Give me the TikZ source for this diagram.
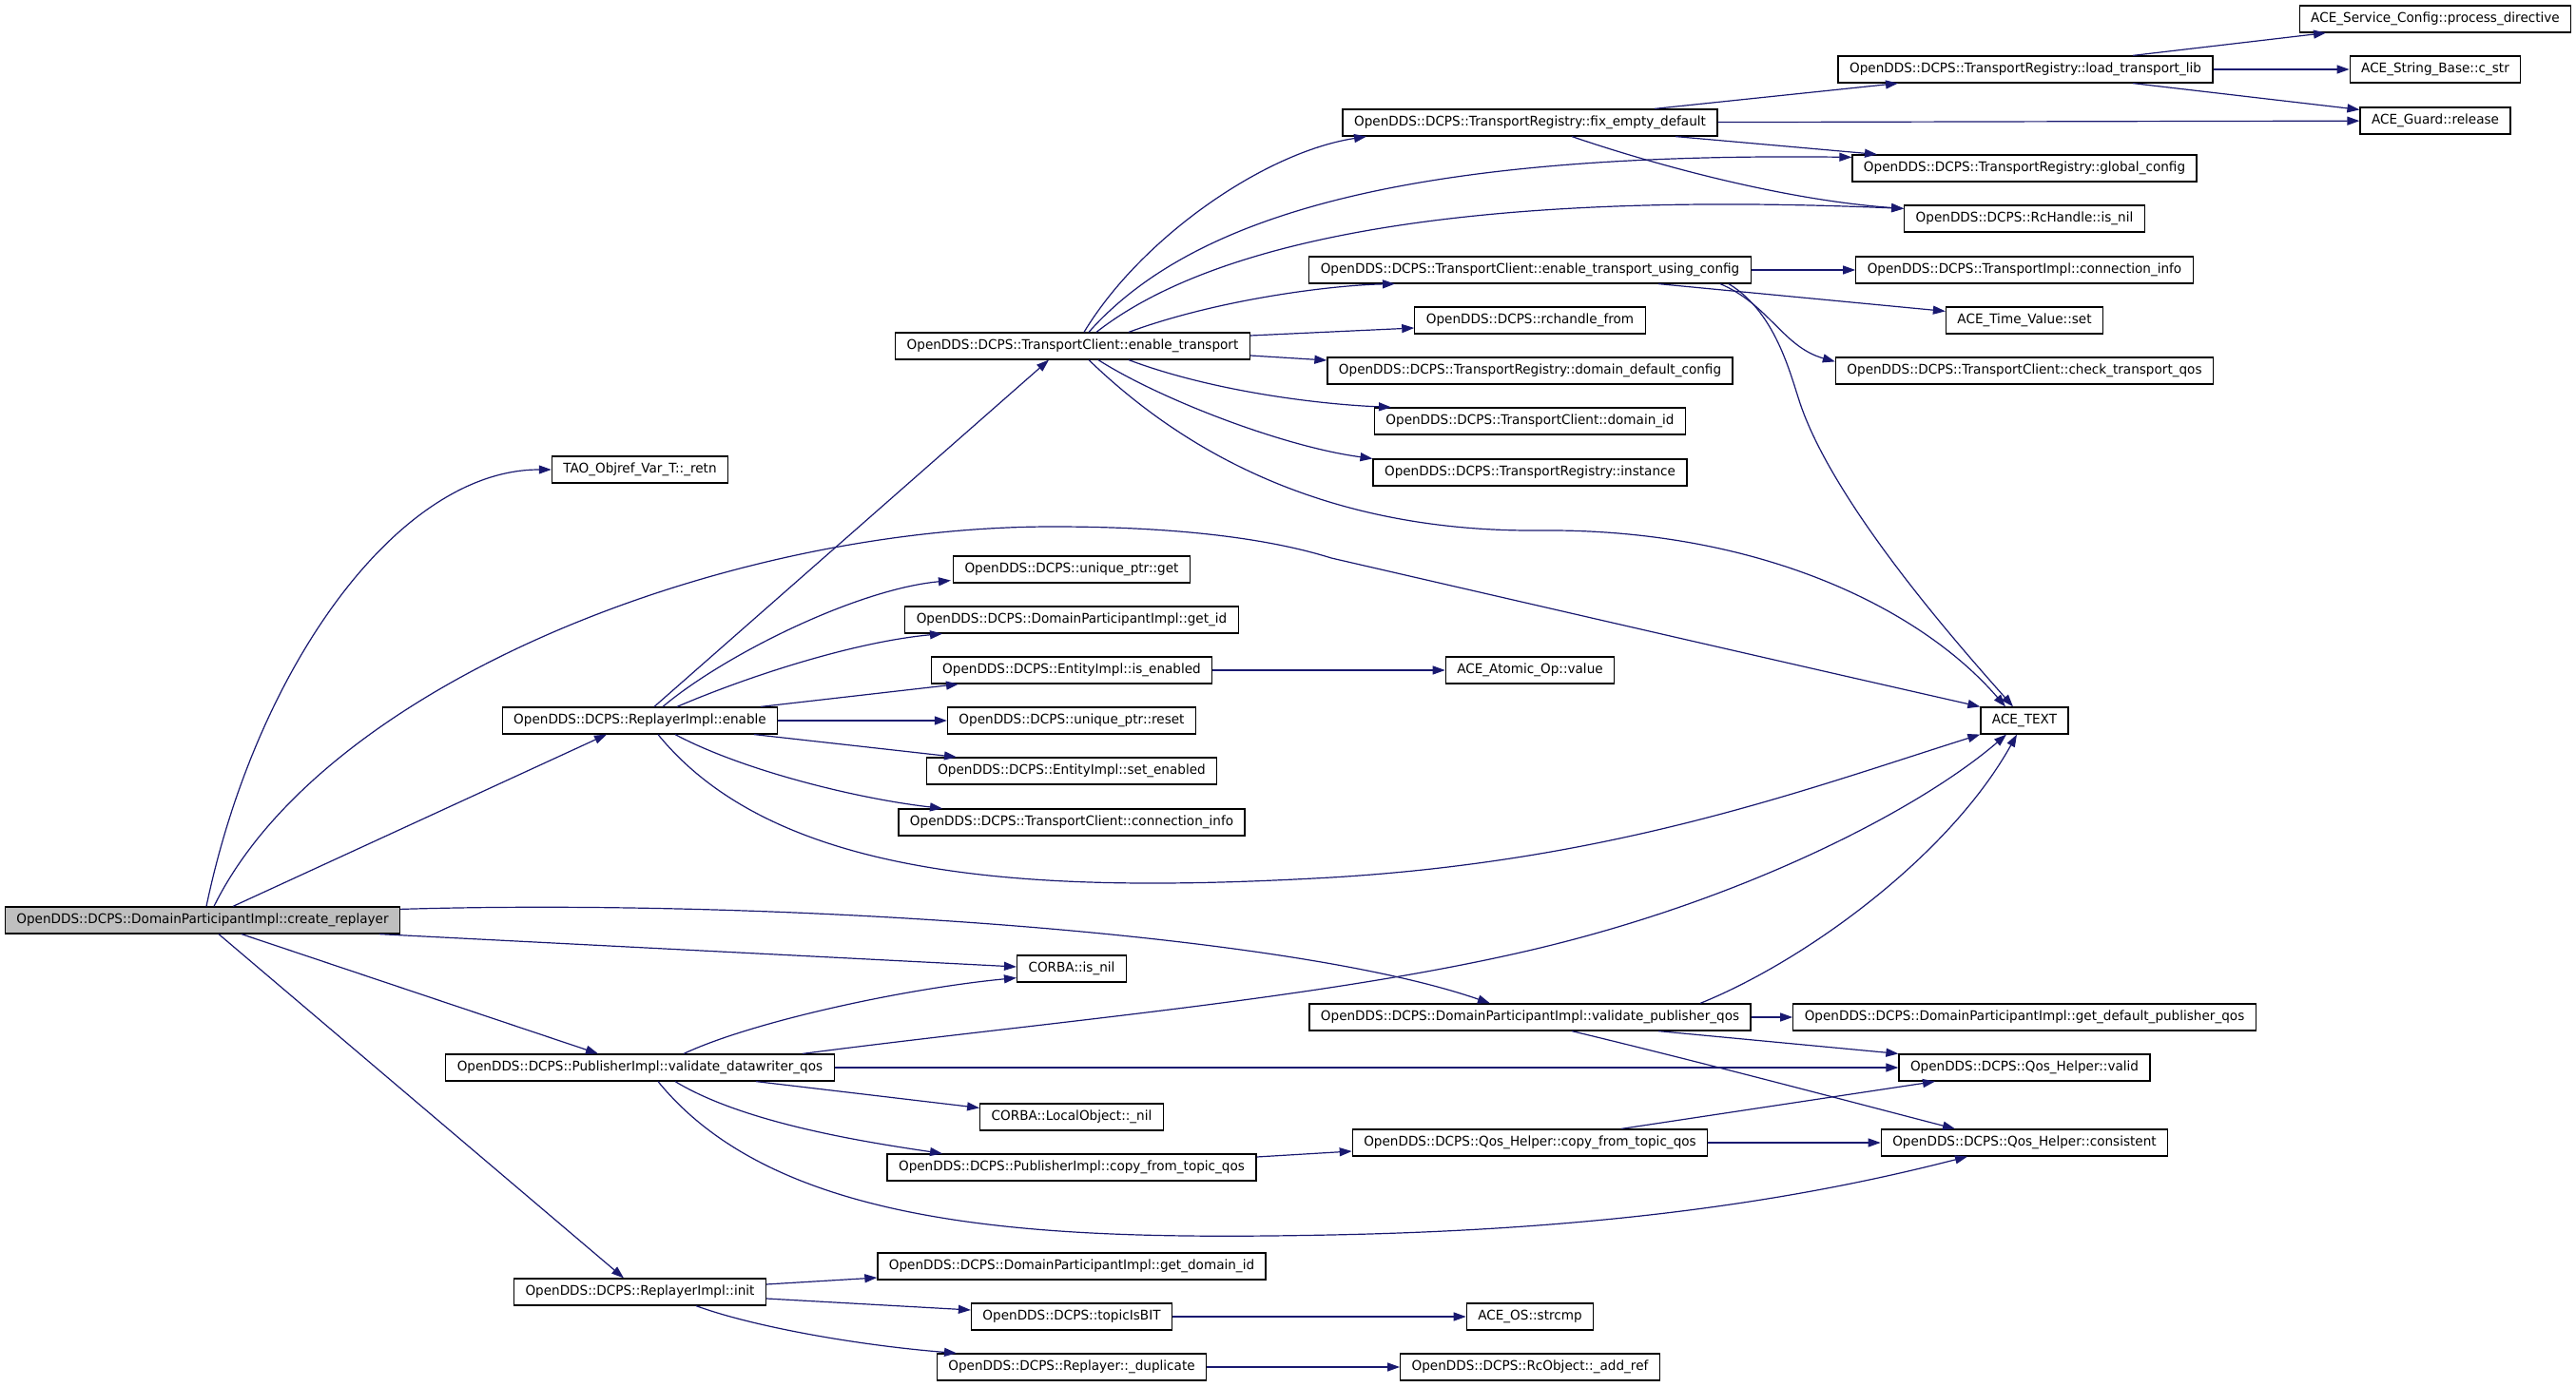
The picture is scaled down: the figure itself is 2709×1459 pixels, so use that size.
\documentclass[tikz,border=0pt]{standalone}
\usepackage{fontspec}
\newfontfamily\dfont[FakeStretch=0.97]{DejaVu Sans}
\usepackage{tikz}
\usetikzlibrary{arrows.meta, calc}
\definecolor{navy}{HTML}{191970}

\begin{document}
\begin{tikzpicture}[x=0.5pt, y=-0.5pt,
    fn/.style={draw=black, fill=white, line width=0.6pt, inner xsep=6pt, inner ysep=0pt,
      minimum height=14pt, font=\dfont\fontsize{7}{8}\selectfont},
    cur/.style={fn, fill=gray!50},
    call/.style={draw=navy, line width=0.6pt, -{Triangle[length=6.5pt, width=4.5pt]}}]
    \useasboundingbox (0, 0) rectangle (2709, 1459);

    \node[cur] (cr) at (213, 968) {OpenDDS::DCPS::DomainParticipantImpl::create\_replayer};

    \node[fn] (retn) at (673, 494) {TAO\_Objref\_Var\_T::\_retn};
    \node[fn] (re) at (673, 758) {OpenDDS::DCPS::ReplayerImpl::enable};
    \node[fn] (vdq) at (673, 1123) {OpenDDS::DCPS::PublisherImpl::validate\_datawriter\_qos};
    \node[fn] (init) at (673, 1359) {OpenDDS::DCPS::ReplayerImpl::init};

    \node[fn] (et) at (1128, 364) {OpenDDS::DCPS::TransportClient::enable\_transport};
    \node[fn] (get) at (1127, 599) {OpenDDS::DCPS::unique\_ptr::get};
    \node[fn] (gid) at (1127, 652) {OpenDDS::DCPS::DomainParticipantImpl::get\_id};
    \node[fn] (isen) at (1127, 705) {OpenDDS::DCPS::EntityImpl::is\_enabled};
    \node[fn] (reset) at (1127, 758) {OpenDDS::DCPS::unique\_ptr::reset};
    \node[fn] (seten) at (1127, 811) {OpenDDS::DCPS::EntityImpl::set\_enabled};
    \node[fn] (tcci) at (1127, 865) {OpenDDS::DCPS::TransportClient::connection\_info};
    \node[fn] (cnil) at (1127, 1019) {CORBA::is\_nil};
    \node[fn] (lnil) at (1127, 1175) {CORBA::LocalObject::\_nil};
    \node[fn] (pcft) at (1127, 1228) {OpenDDS::DCPS::PublisherImpl::copy\_from\_topic\_qos};
    \node[fn] (gdid) at (1127, 1332) {OpenDDS::DCPS::DomainParticipantImpl::get\_domain\_id};
    \node[fn] (tib) at (1127, 1385) {OpenDDS::DCPS::topicIsBIT};
    \node[fn] (dup) at (1127, 1438) {OpenDDS::DCPS::Replayer::\_duplicate};

    \node[fn] (fe) at (1609, 129) {OpenDDS::DCPS::TransportRegistry::fix\_empty\_default};
    \node[fn] (etuc) at (1609, 284) {OpenDDS::DCPS::TransportClient::enable\_transport\_using\_config};
    \node[fn] (rhf) at (1609, 337) {OpenDDS::DCPS::rchandle\_from};
    \node[fn] (ddc) at (1609, 390) {OpenDDS::DCPS::TransportRegistry::domain\_default\_config};
    \node[fn] (did) at (1609, 443) {OpenDDS::DCPS::TransportClient::domain\_id};
    \node[fn] (inst) at (1609, 497) {OpenDDS::DCPS::TransportRegistry::instance};
    \node[fn] (aval) at (1609, 705) {ACE\_Atomic\_Op::value};
    \node[fn] (vpq) at (1609, 1070) {OpenDDS::DCPS::DomainParticipantImpl::validate\_publisher\_qos};
    \node[fn] (qcft) at (1609, 1202) {OpenDDS::DCPS::Qos\_Helper::copy\_from\_topic\_qos};
    \node[fn] (strc) at (1609, 1385) {ACE\_OS::strcmp};
    \node[fn] (addref) at (1609, 1438) {OpenDDS::DCPS::RcObject::\_add\_ref};

    \node[fn] (ltl) at (2130, 73) {OpenDDS::DCPS::TransportRegistry::load\_transport\_lib};
    \node[fn] (gcfg) at (2129, 177) {OpenDDS::DCPS::TransportRegistry::global\_config};
    \node[fn] (rcnil) at (2129, 230) {OpenDDS::DCPS::RcHandle::is\_nil};
    \node[fn] (tci) at (2129, 284) {OpenDDS::DCPS::TransportImpl::connection\_info};
    \node[fn] (tvs) at (2129, 337) {ACE\_Time\_Value::set};
    \node[fn] (ctq) at (2129, 390) {OpenDDS::DCPS::TransportClient::check\_transport\_qos};
    \node[fn] (acetext) at (2129, 758) {ACE\_TEXT};
    \node[fn] (gdpq) at (2129, 1070) {OpenDDS::DCPS::DomainParticipantImpl::get\_default\_publisher\_qos};
    \node[fn] (qval) at (2129, 1123) {OpenDDS::DCPS::Qos\_Helper::valid};
    \node[fn] (qcons) at (2129, 1202) {OpenDDS::DCPS::Qos\_Helper::consistent};

    \node[fn] (pd) at (2561, 20) {ACE\_Service\_Config::process\_directive};
    \node[fn] (cstr) at (2561, 73) {ACE\_String\_Base::c\_str};
    \node[fn] (grel) at (2561, 127) {ACE\_Guard::release};

    % create_replayer
    \draw[call] ($(cr.north)+(4,0)$) .. controls (270,700) and (420,494) .. (retn.west);
    \draw[call] ($(cr.north)+(32,0)$) -- ($(re.south)+(-35,0)$);
    \draw[call] ($(cr.north)+(12,0)$) .. controls (340,720) and (760,554) .. (1107,554)
      .. controls (1230,554) and (1330,565) .. (1400,587)
      .. controls (1630,640) and (1860,693) .. (acetext.north west);
    \draw[call] ($(cr.south)+(186,0)$) -- ($(cnil.west)+(0,-2)$);
    \draw[call] ($(cr.south)+(41,0)$) -- ($(vdq.north)+(-44,0)$);
    \draw[call] ($(cr.south)+(17,0)$) -- ($(init.north)+(-17,0)$);
    \draw[call] ($(cr.north east)+(0,3)$) .. controls (800,945) and (1350,980) .. ($(vpq.north)+(-42,0)$);

    % ReplayerImpl::enable
    \draw[call] ($(re.north)+(15,0)$) -- ($(et.south)+(-25,0)$);
    \draw[call] ($(re.north)+(24,0)$) .. controls (760,690) and (900,620) .. ($(get.south west)+(-2,-3)$);
    \draw[call] ($(re.north)+(39,0)$) .. controls (790,710) and (900,675) .. ($(gid.south)+(-136,0)$);
    \draw[call] ($(re.north)+(127,0)$) -- ($(isen.south)+(-119,0)$);
    \draw[call] (re) -- (reset);
    \draw[call] ($(re.south)+(120,0)$) -- ($(seten.north)+(-121,0)$);
    \draw[call] ($(re.south)+(37,0)$) .. controls (780,810) and (900,840) .. ($(tcci.north)+(-136,0)$);
    \draw[call] ($(re.south)+(19,0)$) .. controls (820,930) and (1100,940) .. (1400,923)
      .. controls (1700,905) and (1900,830) .. (acetext.south west);

    % TransportClient::enable_transport
    \draw[call] ($(et.north)+(12,0)$) .. controls (1200,250) and (1330,160) .. ($(fe.south)+(-172,0)$);
    \draw[call] ($(et.north)+(17,0)$) .. controls (1260,220) and (1500,160) .. ($(gcfg.north west)+(0,3)$);
    \draw[call] ($(et.north)+(25,0)$) .. controls (1280,250) and (1550,200) .. ($(rcnil.north west)+(0,4)$);
    \draw[call] ($(et.north)+(59,0)$) .. controls (1280,315) and (1400,300) .. ($(etuc.south)+(-142,0)$);
    \draw[call] ($(et.east)+(0,-11)$) -- ($(rhf.west)+(0,8)$);
    \draw[call] ($(et.east)+(0,10)$) -- ($(ddc.west)+(0,-11)$);
    \draw[call] ($(et.south)+(59,0)$) .. controls (1270,410) and (1380,425) .. ($(did.north)+(-146,0)$);
    \draw[call] ($(et.south)+(27,0)$) .. controls (1220,420) and (1350,470) .. (inst.north west);
    \draw[call] ($(et.south)+(17,0)$) .. controls (1250,480) and (1400,560) .. (1620,558)
      .. controls (1850,556) and (2020,640) .. ($(acetext.north)+(-20,0)$);

    % TransportRegistry::fix_empty_default
    \draw[call] ($(fe.north)+(131,0)$) -- ($(ltl.south)+(-134,0)$);
    \draw[call] (fe) -- (grel);
    \draw[call] ($(fe.south)+(153,0)$) -- ($(gcfg.north)+(-155,0)$);
    \draw[call] ($(fe.south)+(44,0)$) .. controls (1730,170) and (1870,210) .. ($(rcnil.north west)+(0,4)$);

    % TransportRegistry::load_transport_lib
    \draw[call] ($(ltl.north)+(113,0)$) -- ($(pd.south)+(-115,0)$);
    \draw[call] (ltl) -- (cstr);
    \draw[call] ($(ltl.south)+(113,0)$) -- ($(grel.north west)+(0,3)$);

    % TransportClient::enable_transport_using_config
    \draw[call] (etuc) -- (tci);
    \draw[call] ($(etuc.south)+(135,0)$) -- ($(tvs.north west)+(0,5)$);
    \draw[call] ($(etuc.south)+(200,0)$) .. controls (1860,320) and (1875,365) .. ($(ctq.north west)+(0,5)$);
    \draw[call] ($(etuc.south)+(209,0)$) .. controls (1870,330) and (1884,400) .. (1895,430)
      .. controls (1935,540) and (2070,690) .. ($(acetext.north)+(-12,0)$);

    \draw[call] (isen) -- (aval);

    % PublisherImpl::validate_datawriter_qos
    \draw[call] ($(vdq.north)+(46,0)$) .. controls (790,1075) and (950,1040) .. ($(cnil.south west)+(0,-5)$);
    \draw[call] ($(vdq.north)+(171,0)$) .. controls (1100,1075) and (1400,1050) .. (1620,997)
      .. controls (1840,944) and (2020,850) .. ($(acetext.south)+(-19,0)$);
    \draw[call] (vdq) -- (qval);
    \draw[call] ($(vdq.south)+(122,0)$) -- ($(lnil.north west)+(0,5)$);
    \draw[call] ($(vdq.south)+(37,0)$) .. controls (780,1180) and (900,1200) .. ($(pcft.north)+(-136,0)$);
    \draw[call] ($(vdq.south)+(19,0)$) .. controls (820,1295) and (1100,1305) .. (1400,1299)
      .. controls (1700,1293) and (1900,1260) .. ($(qcons.south)+(-60,0)$);

    % DomainParticipantImpl::validate_publisher_qos
    \draw[call] ($(vpq.north)+(179,0)$) .. controls (1900,1010) and (2050,900) .. ($(acetext.south)+(-8,0)$);
    \draw[call] (vpq) -- (gdpq);
    \draw[call] ($(vpq.south)+(135,0)$) -- (qval.north west);
    \draw[call] ($(vpq.south)+(44,0)$) .. controls (1800,1120) and (1950,1160) .. ($(qcons.north)+(-73,0)$);

    % copy_from_topic_qos
    \draw[call] ($(pcft.east)+(0,-11)$) -- ($(qcft.west)+(0,9)$);
    \draw[call] ($(qcft.north)+(96,0)$) -- ($(qval.south)+(-94,0)$);
    \draw[call] (qcft) -- (qcons);

    % ReplayerImpl::init
    \draw[call] ($(init.east)+(0,-8)$) -- ($(gdid.west)+(0,12)$);
    \draw[call] ($(init.east)+(0,7)$) -- ($(tib.west)+(0,-7)$);
    \draw[call] ($(init.south)+(59,0)$) .. controls (790,1395) and (900,1415) .. ($(dup.north)+(-121,0)$);
    \draw[call] (tib) -- (strc);
    \draw[call] (dup) -- (addref);
\end{tikzpicture}
\end{document}
